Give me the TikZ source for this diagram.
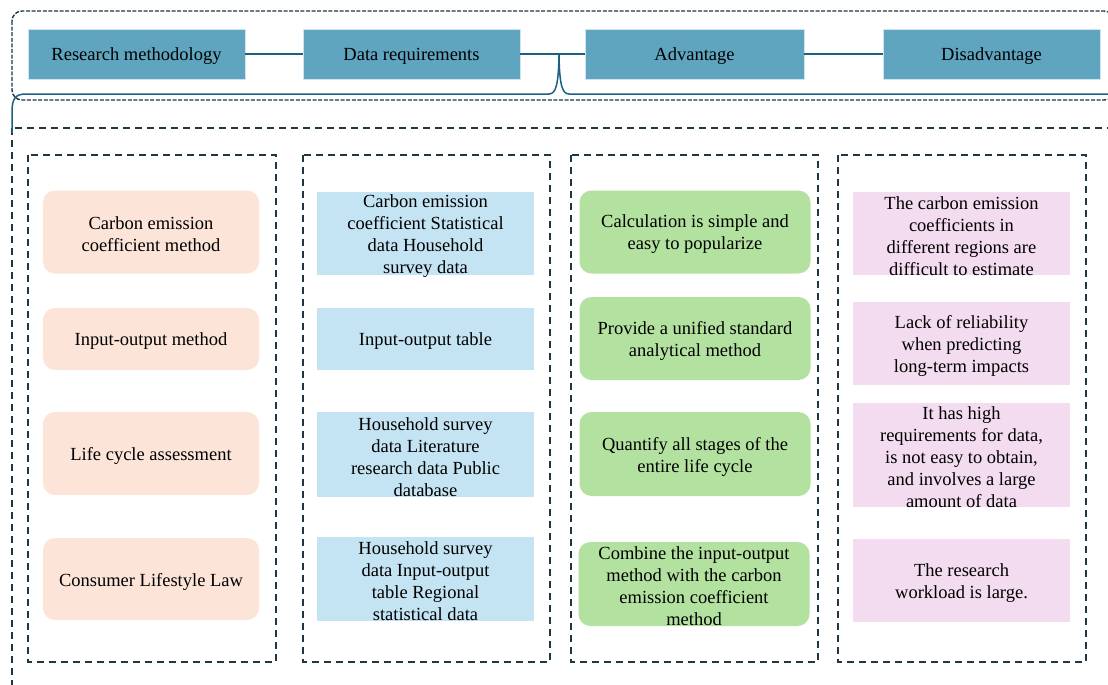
\documentclass[tikz,border=0pt]{standalone}
\usepackage{fontspec}
\setmainfont{Liberation Serif}
\definecolor{headfill}{RGB}{95,165,192}
\definecolor{linkline}{RGB}{28,96,130}
\definecolor{frameline}{RGB}{30,55,67}
\definecolor{peach}{RGB}{252,228,216}
\definecolor{skyblue}{RGB}{196,228,244}
\definecolor{leafgreen}{RGB}{179,226,160}
\definecolor{lilac}{RGB}{243,219,240}
\tikzset{
  txt/.style={font=\fontsize{18.5}{22}\selectfont, text=black, align=center, inner sep=0pt},
  shape only/.style={inner sep=0pt},
  headbox/.style={shape only, fill=headfill, draw=white!70!headfill, line width=0.6pt, minimum width=217pt, minimum height=50pt},
  link/.style={draw=linkline, line width=1.5pt},
  outerframe/.style={draw=frameline, line width=1.4pt, dash pattern=on 4pt off 1.6pt},
  bigframe/.style={draw=frameline, line width=1.8pt, dash pattern=on 7pt off 5pt},
  colframe/.style={draw=frameline, line width=1.8pt, dash pattern=on 7pt off 5pt},
  methodbox/.style={shape only, fill=peach, rounded corners=12pt, minimum width=216pt},
  databox/.style={shape only, fill=skyblue, minimum width=217pt},
  probox/.style={shape only, fill=leafgreen, rounded corners=12pt, minimum width=231pt},
  conbox/.style={shape only, fill=lilac, minimum width=217pt},
}
% a filled box with its centred caption set slightly below the middle
\newcommand\cellbox[5]{%
  \node[#1, minimum height=#4] (#2) at (#3) {};
  \node[txt] (#2-t) at ([yshift=-2.5pt]#2.center) {#5};}
\begin{document}
\begin{tikzpicture}[x=1pt, y=-1pt]
\clip (0,0) rectangle (1108,685);
\fill[white] (0,0) rectangle (1108,685);

% frames
\draw[outerframe, rounded corners=10pt] (12,11) rectangle (1114,100);
\draw[bigframe] (12,128) rectangle (1125,700);
\draw[colframe] (28,155) rectangle (276,662);
\draw[colframe] (303,155) rectangle (550,662);
\draw[colframe] (571,155) rectangle (818,662);
\draw[colframe] (838,155) rectangle (1086,662);

% header row
\cellbox{headbox}{rm}{136.5,54}{50pt}{Research methodology}
\cellbox{headbox}{dr}{411.5,54}{50pt}{Data requirements}
\cellbox{headbox, minimum width=219pt}{adv}{694.5,54}{50pt}{Advantage}
\cellbox{headbox}{dis}{991.5,54}{50pt}{Disadvantage}

\draw[link] (rm.east) -- (dr.west);
\draw[link] (dr.east) -- (adv.west);
\draw[link] (adv.east) -- (dis.west);

% brace under the header row
\coordinate (peak) at (559,55);
\coordinate (bl) at (12,133);
\coordinate (br) at (1110,94);
\draw[link] (bl) -- (12,112) .. controls (12,99) and (15,94) .. (26,94)
  -- (549,94) .. controls (556,94) and (558.5,84) .. (peak)
  .. controls (559.5,84) and (562,94) .. (569,94) -- (br);

% research methodology column
\cellbox{methodbox}{m1}{151,232}{83pt}{Carbon emission\\coefficient method}
\cellbox{methodbox}{m2}{151,339}{62pt}{Input-output method}
\cellbox{methodbox}{m3}{151,453.5}{83pt}{Life cycle assessment}
\cellbox{methodbox}{m4}{151,579}{82pt}{Consumer Lifestyle Law}

% data requirements column
\cellbox{databox}{d1}{425.5,233.5}{83pt}{Carbon emission\\coefficient Statistical\\data Household\\survey data}
\cellbox{databox}{d2}{425.5,339}{62pt}{Input-output table}
\cellbox{databox}{d3}{425.5,454.5}{85pt}{Household survey\\data Literature\\research data Public\\database}
\cellbox{databox}{d4}{425.5,579}{84pt}{Household survey\\data Input-output\\table Regional\\statistical data}

% advantage column
\cellbox{probox}{a1}{695,232}{83pt}{Calculation is simple and\\easy to popularize}
\cellbox{probox}{a2}{695,338.5}{83pt}{Provide a unified standard\\analytical method}
\cellbox{probox}{a3}{695,454}{84pt}{Quantify all stages of the\\entire life cycle}
\cellbox{probox}{a4}{694,584}{84pt}{Combine the input-output\\method with the carbon\\emission coefficient\\method}

% disadvantage column
\cellbox{conbox}{c1}{961.5,233.5}{83pt}{The carbon emission\\coefficients in\\different regions are\\difficult to estimate}
\cellbox{conbox}{c2}{961.5,343.5}{83pt}{Lack of reliability\\when predicting\\long-term impacts}
\cellbox{conbox}{c3}{961.5,455}{104pt}{It has high\\requirements for data,\\is not easy to obtain,\\and involves a large\\amount of data}
\cellbox{conbox}{c4}{961.5,580.5}{83pt}{The research\\workload is large.}
\end{tikzpicture}
\end{document}
